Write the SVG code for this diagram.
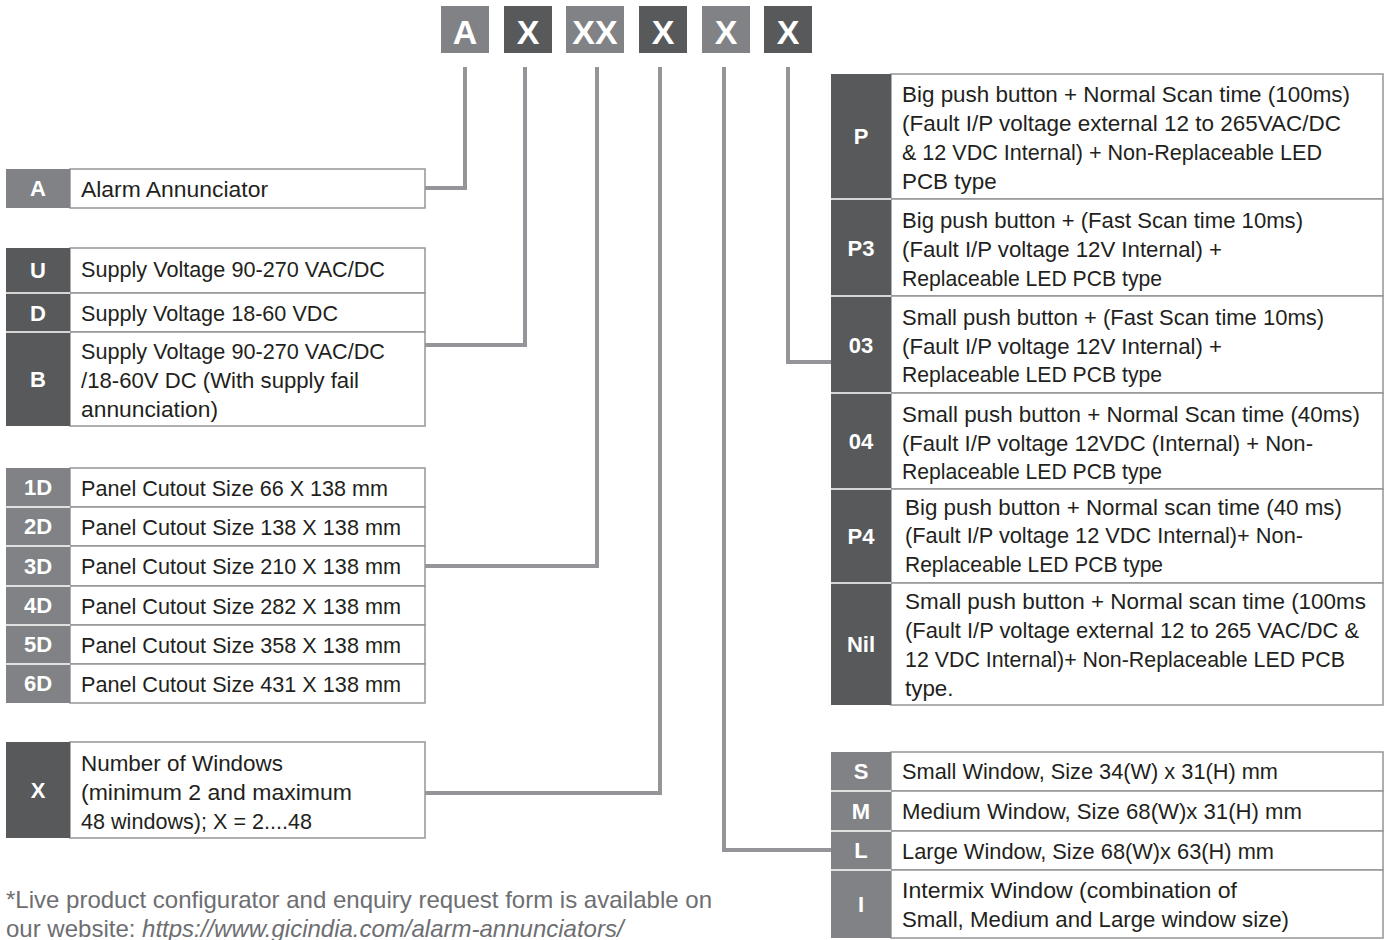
<svg xmlns="http://www.w3.org/2000/svg" width="1389" height="940" viewBox="0 0 1389 940">
<style>
.m{fill:#808285}
.d{fill:#58595b}
.cell{fill:#fff;stroke:#939598;stroke-width:1.5}
.sep{stroke:#fff;stroke-width:1.5}
.t{font-family:"Liberation Sans",Arial,sans-serif;font-size:22.4px;fill:#231f20}
.k{font-family:"Liberation Sans",Arial,sans-serif;font-size:22px;font-weight:bold;fill:#fff;text-anchor:middle}
.h{font-family:"Liberation Sans",Arial,sans-serif;font-size:34px;font-weight:bold;fill:#fff;text-anchor:middle}
.wire{fill:none;stroke:#939598;stroke-width:4}
.foot{font-family:"Liberation Sans",Arial,sans-serif;font-size:24px;fill:#6d6e71}
</style>
<rect width="1389" height="940" fill="#fff"/>

<g id="header">
<rect class="m" x="441" y="6" width="48" height="47"/><text class="h" x="465" y="44">A</text>
<rect class="d" x="504" y="6" width="48" height="47"/><text class="h" x="528" y="44">X</text>
<rect class="m" x="566" y="6" width="58" height="47"/><text class="h" x="595" y="44">XX</text>
<rect class="d" x="639" y="6" width="48" height="47"/><text class="h" x="663" y="44">X</text>
<rect class="m" x="702" y="6" width="48" height="47"/><text class="h" x="726" y="44">X</text>
<rect class="d" x="764" y="6" width="48" height="47"/><text class="h" x="788" y="44">X</text>
</g>

<g id="connectors">
<polyline class="wire" points="465,67 465,188 425,188"/>
<polyline class="wire" points="525,67 525,345 425,345"/>
<polyline class="wire" points="597,67 597,566 425,566"/>
<polyline class="wire" points="660,67 660,793 425,793"/>
<polyline class="wire" points="724,67 724,850 831,850"/>
<polyline class="wire" points="788,67 788,362 831,362"/>
</g>

<g id="node-A">
<rect class="cell" x="70" y="169" width="355" height="39"/>
<rect class="m" x="6" y="169" width="64" height="39"/>
<text class="k" x="38" y="196">A</text>
<text class="t" x="81" y="197" textLength="187" lengthAdjust="spacingAndGlyphs">Alarm Annunciator</text>
</g>

<g id="node-U">
<rect class="cell" x="70" y="248" width="355" height="45"/>
<rect class="d" x="6" y="248" width="64" height="45"/>
<text class="k" x="38" y="278">U</text>
<text class="t" x="81" y="277" textLength="304" lengthAdjust="spacingAndGlyphs">Supply Voltage 90-270 VAC/DC</text>
</g>
<g id="node-D">
<rect class="cell" x="70" y="293" width="355" height="39"/>
<rect class="d" x="6" y="293" width="64" height="39"/>
<text class="k" x="38" y="321">D</text>
<text class="t" x="81" y="321" textLength="257" lengthAdjust="spacingAndGlyphs">Supply Voltage 18-60 VDC</text>
</g>
<g id="node-B">
<rect class="cell" x="70" y="332" width="355" height="94"/>
<rect class="d" x="6" y="332" width="64" height="94"/>
<text class="k" x="38" y="387">B</text>
<text class="t" x="81" y="359" textLength="304" lengthAdjust="spacingAndGlyphs">Supply Voltage 90-270 VAC/DC</text>
<text class="t" x="81" y="388" textLength="278" lengthAdjust="spacingAndGlyphs">/18-60V DC (With supply fail</text>
<text class="t" x="81" y="417" textLength="137" lengthAdjust="spacingAndGlyphs">annunciation)</text>
</g>
<line class="sep" x1="6" y1="293" x2="70" y2="293"/>
<line class="sep" x1="6" y1="332" x2="70" y2="332"/>

<g id="node-1D">
<rect class="cell" x="70" y="468" width="355" height="39"/>
<rect class="m" x="6" y="468" width="64" height="39"/>
<text class="k" x="38" y="495">1D</text>
<text class="t" x="81" y="496" textLength="307" lengthAdjust="spacingAndGlyphs">Panel Cutout Size 66 X 138 mm</text>
</g>
<g id="node-2D">
<rect class="cell" x="70" y="507" width="355" height="39"/>
<rect class="m" x="6" y="507" width="64" height="39"/>
<text class="k" x="38" y="534">2D</text>
<text class="t" x="81" y="535" textLength="320" lengthAdjust="spacingAndGlyphs">Panel Cutout Size 138 X 138 mm</text>
</g>
<g id="node-3D">
<rect class="cell" x="70" y="546" width="355" height="40"/>
<rect class="m" x="6" y="546" width="64" height="40"/>
<text class="k" x="38" y="574">3D</text>
<text class="t" x="81" y="574" textLength="320" lengthAdjust="spacingAndGlyphs">Panel Cutout Size 210 X 138 mm</text>
</g>
<g id="node-4D">
<rect class="cell" x="70" y="586" width="355" height="39"/>
<rect class="m" x="6" y="586" width="64" height="39"/>
<text class="k" x="38" y="613">4D</text>
<text class="t" x="81" y="614" textLength="320" lengthAdjust="spacingAndGlyphs">Panel Cutout Size 282 X 138 mm</text>
</g>
<g id="node-5D">
<rect class="cell" x="70" y="625" width="355" height="39"/>
<rect class="m" x="6" y="625" width="64" height="39"/>
<text class="k" x="38" y="652">5D</text>
<text class="t" x="81" y="653" textLength="320" lengthAdjust="spacingAndGlyphs">Panel Cutout Size 358 X 138 mm</text>
</g>
<g id="node-6D">
<rect class="cell" x="70" y="664" width="355" height="39"/>
<rect class="m" x="6" y="664" width="64" height="39"/>
<text class="k" x="38" y="691">6D</text>
<text class="t" x="81" y="692" textLength="320" lengthAdjust="spacingAndGlyphs">Panel Cutout Size 431 X 138 mm</text>
</g>
<line class="sep" x1="6" y1="507" x2="70" y2="507"/>
<line class="sep" x1="6" y1="546" x2="70" y2="546"/>
<line class="sep" x1="6" y1="586" x2="70" y2="586"/>
<line class="sep" x1="6" y1="625" x2="70" y2="625"/>
<line class="sep" x1="6" y1="664" x2="70" y2="664"/>

<g id="node-X">
<rect class="cell" x="70" y="742" width="355" height="96"/>
<rect class="d" x="6" y="742" width="64" height="96"/>
<text class="k" x="38" y="798">X</text>
<text class="t" x="81" y="771" textLength="202" lengthAdjust="spacingAndGlyphs">Number of Windows</text>
<text class="t" x="81" y="800" textLength="271" lengthAdjust="spacingAndGlyphs">(minimum 2 and maximum</text>
<text class="t" x="81" y="829" textLength="231" lengthAdjust="spacingAndGlyphs">48 windows); X = 2....48</text>
</g>

<g id="node-P">
<rect class="cell" x="891" y="74" width="492" height="125"/>
<rect class="d" x="831" y="74" width="60" height="125"/>
<text class="k" x="861" y="144">P</text>
<text class="t" x="902" y="102" textLength="448" lengthAdjust="spacingAndGlyphs">Big push button + Normal Scan time (100ms)</text>
<text class="t" x="902" y="131" textLength="439" lengthAdjust="spacingAndGlyphs">(Fault I/P voltage external 12 to 265VAC/DC</text>
<text class="t" x="902" y="160" textLength="420" lengthAdjust="spacingAndGlyphs">&amp; 12 VDC Internal) + Non-Replaceable LED</text>
<text class="t" x="902" y="189">PCB type</text>
</g>
<g id="node-P3">
<rect class="cell" x="891" y="199" width="492" height="97"/>
<rect class="d" x="831" y="199" width="60" height="97"/>
<text class="k" x="861" y="256">P3</text>
<text class="t" x="902" y="228" textLength="401" lengthAdjust="spacingAndGlyphs">Big push button + (Fast Scan time 10ms)</text>
<text class="t" x="902" y="257" textLength="320" lengthAdjust="spacingAndGlyphs">(Fault I/P voltage 12V Internal) +</text>
<text class="t" x="902" y="286" textLength="260" lengthAdjust="spacingAndGlyphs">Replaceable LED PCB type</text>
</g>
<g id="node-03">
<rect class="cell" x="891" y="296" width="492" height="97"/>
<rect class="d" x="831" y="296" width="60" height="97"/>
<text class="k" x="861" y="353">03</text>
<text class="t" x="902" y="325" textLength="422" lengthAdjust="spacingAndGlyphs">Small push button + (Fast Scan time 10ms)</text>
<text class="t" x="902" y="354" textLength="320" lengthAdjust="spacingAndGlyphs">(Fault I/P voltage 12V Internal) +</text>
<text class="t" x="902" y="382" textLength="260" lengthAdjust="spacingAndGlyphs">Replaceable LED PCB type</text>
</g>
<g id="node-04">
<rect class="cell" x="891" y="393" width="492" height="96"/>
<rect class="d" x="831" y="393" width="60" height="96"/>
<text class="k" x="861" y="449">04</text>
<text class="t" x="902" y="422" textLength="458" lengthAdjust="spacingAndGlyphs">Small push button + Normal Scan time (40ms)</text>
<text class="t" x="902" y="451" textLength="411" lengthAdjust="spacingAndGlyphs">(Fault I/P voltage 12VDC (Internal) + Non-</text>
<text class="t" x="902" y="479" textLength="260" lengthAdjust="spacingAndGlyphs">Replaceable LED PCB type</text>
</g>
<g id="node-P4">
<rect class="cell" x="891" y="489" width="492" height="94"/>
<rect class="d" x="831" y="489" width="60" height="94"/>
<text class="k" x="861" y="544">P4</text>
<text class="t" x="905" y="515" textLength="437" lengthAdjust="spacingAndGlyphs">Big push button + Normal scan time (40 ms)</text>
<text class="t" x="905" y="543" textLength="398" lengthAdjust="spacingAndGlyphs">(Fault I/P voltage 12 VDC Internal)+ Non-</text>
<text class="t" x="905" y="572" textLength="258" lengthAdjust="spacingAndGlyphs">Replaceable LED PCB type</text>
</g>
<g id="node-Nil">
<rect class="cell" x="891" y="583" width="492" height="122"/>
<rect class="d" x="831" y="583" width="60" height="122"/>
<text class="k" x="861" y="652">Nil</text>
<text class="t" x="905" y="609" textLength="461" lengthAdjust="spacingAndGlyphs">Small push button + Normal scan time (100ms</text>
<text class="t" x="905" y="638" textLength="454" lengthAdjust="spacingAndGlyphs">(Fault I/P voltage external 12 to 265 VAC/DC &amp;</text>
<text class="t" x="905" y="667" textLength="440" lengthAdjust="spacingAndGlyphs">12 VDC Internal)+ Non-Replaceable LED PCB</text>
<text class="t" x="905" y="696">type.</text>
</g>
<line class="sep" x1="831" y1="199" x2="891" y2="199"/>
<line class="sep" x1="831" y1="296" x2="891" y2="296"/>
<line class="sep" x1="831" y1="393" x2="891" y2="393"/>
<line class="sep" x1="831" y1="489" x2="891" y2="489"/>
<line class="sep" x1="831" y1="583" x2="891" y2="583"/>

<g id="node-S">
<rect class="cell" x="891" y="752" width="492" height="39"/>
<rect class="m" x="831" y="752" width="60" height="39"/>
<text class="k" x="861" y="779">S</text>
<text class="t" x="902" y="779" textLength="376" lengthAdjust="spacingAndGlyphs">Small Window, Size 34(W) x 31(H) mm</text>
</g>
<g id="node-M">
<rect class="cell" x="891" y="791" width="492" height="40"/>
<rect class="m" x="831" y="791" width="60" height="40"/>
<text class="k" x="861" y="819">M</text>
<text class="t" x="902" y="819" textLength="400" lengthAdjust="spacingAndGlyphs">Medium Window, Size 68(W)x 31(H) mm</text>
</g>
<g id="node-L">
<rect class="cell" x="891" y="831" width="492" height="39"/>
<rect class="m" x="831" y="831" width="60" height="39"/>
<text class="k" x="861" y="858">L</text>
<text class="t" x="902" y="859" textLength="372" lengthAdjust="spacingAndGlyphs">Large Window, Size 68(W)x 63(H) mm</text>
</g>
<g id="node-I">
<rect class="cell" x="891" y="870" width="492" height="68"/>
<rect class="m" x="831" y="870" width="60" height="68"/>
<text class="k" x="861" y="912">I</text>
<text class="t" x="902" y="898" textLength="335" lengthAdjust="spacingAndGlyphs">Intermix Window (combination of</text>
<text class="t" x="902" y="927" textLength="387" lengthAdjust="spacingAndGlyphs">Small, Medium and Large window size)</text>
</g>
<line class="sep" x1="831" y1="791" x2="891" y2="791"/>
<line class="sep" x1="831" y1="831" x2="891" y2="831"/>
<line class="sep" x1="831" y1="870" x2="891" y2="870"/>

<g id="footer">
<text class="foot" x="6" y="908" textLength="706" lengthAdjust="spacingAndGlyphs">*Live product configurator and enquiry request form is available on</text>
<text class="foot" x="6" y="937">our website: <tspan font-style="italic">https://www.gicindia.com/alarm-annunciators/</tspan></text>
</g>
</svg>
